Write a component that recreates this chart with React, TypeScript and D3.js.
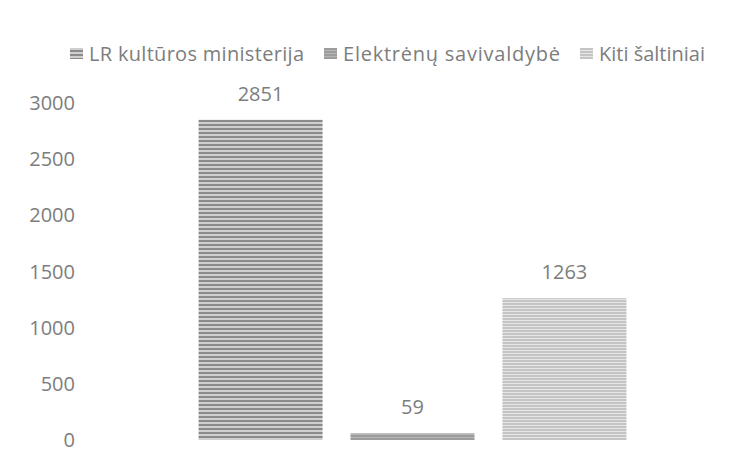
import { useEffect, useRef } from 'react';
import * as d3 from 'd3';

const seriesNames = ['LR kultūros ministerija', 'Elektrėnų savivaldybė', 'Kiti šaltiniai'];
const seriesValues = [2851, 59, 1263];
const yTickValues = [0, 500, 1000, 1500, 2000, 2500, 3000];
const categories = [''];
// widths of the legend labels as drawn in the original
const legendWidths = [215, 217, 106];

const WIDTH = 745;
const HEIGHT = 462;
const FONT = '"Open Sans", "Noto Sans", sans-serif';
const TEXT_COLOR = '#7d7d7d';

// stripe look of each series: [dark line, light line, period]
const stripes: [string, string, number][] = [
  ['#8a8a8a', '#cfcfcf', 4],
  ['#9c9c9c', '#b6b6b6', 3],
  ['#c4c4c4', '#e6e6e6', 3],
];

export default function App() {
  const svgRef = useRef<SVGSVGElement>(null);

  useEffect(() => {
    if (!svgRef.current) return;
    const svg = d3.select(svgRef.current);
    svg.selectAll('*').remove();

    const plot = { left: 95, right: 730, top: 103, bottom: 440 };

    // patterns
    const defs = svg.append('defs');
    stripes.forEach(([dark, light, period], i) => {
      const p = defs.append('pattern')
        .attr('id', `stripe-${i}`)
        .attr('patternUnits', 'userSpaceOnUse')
        .attr('width', 8)
        .attr('height', period);
      p.append('rect').attr('width', 8).attr('height', period).attr('fill', light);
      p.append('rect').attr('width', 8).attr('height', Math.ceil(period / 2)).attr('fill', dark);
    });

    const y = d3.scaleLinear().domain([0, 3000]).range([plot.bottom, plot.top]);

    const x0 = d3.scaleBand<string>()
      .domain(categories)
      .range([plot.left, plot.right])
      .paddingOuter(0.242);

    const x1 = d3.scaleBand<string>()
      .domain(seriesNames)
      .range([0, x0.bandwidth()])
      .paddingInner(0.184)
      .paddingOuter(0);

    // y axis labels (no line, no ticks)
    svg.append('g')
      .selectAll('text')
      .data(yTickValues)
      .enter()
      .append('text')
      .attr('x', 75)
      .attr('y', d => y(d))
      .attr('dy', '0.35em')
      .attr('text-anchor', 'end')
      .attr('font-family', FONT)
      .attr('font-size', 20)
      .attr('fill', TEXT_COLOR)
      .text(d => d);

    const g = svg.append('g').attr('transform', `translate(${x0('')},0)`);

    // bars
    g.selectAll('rect.bar')
      .data(seriesValues)
      .enter()
      .append('rect')
      .attr('class', 'bar')
      .attr('x', (_, i) => x1(seriesNames[i])!)
      .attr('y', d => y(d))
      .attr('width', x1.bandwidth())
      .attr('height', d => y(0) - y(d))
      .attr('fill', (_, i) => `url(#stripe-${i})`);

    // value labels
    g.selectAll('text.value')
      .data(seriesValues)
      .enter()
      .append('text')
      .attr('class', 'value')
      .attr('x', (_, i) => x1(seriesNames[i])! + x1.bandwidth() / 2)
      .attr('y', d => y(d) - 26)
      .attr('dy', '0.35em')
      .attr('text-anchor', 'middle')
      .attr('font-family', FONT)
      .attr('font-size', 20)
      .attr('fill', TEXT_COLOR)
      .text(d => d);

    // legend
    const legend = svg.append('g').attr('transform', 'translate(70,54)');
    let cx = 0;
    seriesNames.forEach((name, i) => {
      const item = legend.append('g').attr('transform', `translate(${cx},0)`);
      item.append('rect')
        .attr('x', 0)
        .attr('y', -6)
        .attr('width', 13)
        .attr('height', 11)
        .attr('fill', `url(#stripe-${i})`);
      item.append('text')
        .attr('x', 19)
        .attr('y', 0)
        .attr('dy', '0.35em')
        .attr('font-family', FONT)
        .attr('font-size', 20)
        .attr('fill', TEXT_COLOR)
        .attr('textLength', legendWidths[i])
        .attr('lengthAdjust', 'spacing')
        .text(name);
      cx += 19 + legendWidths[i] + 20;
    });
  }, []);

  return (
    <svg
      ref={svgRef}
      width={WIDTH}
      height={HEIGHT}
      style={{ position: 'absolute', left: 0, top: 0, background: '#fff' }}
    />
  );
}
